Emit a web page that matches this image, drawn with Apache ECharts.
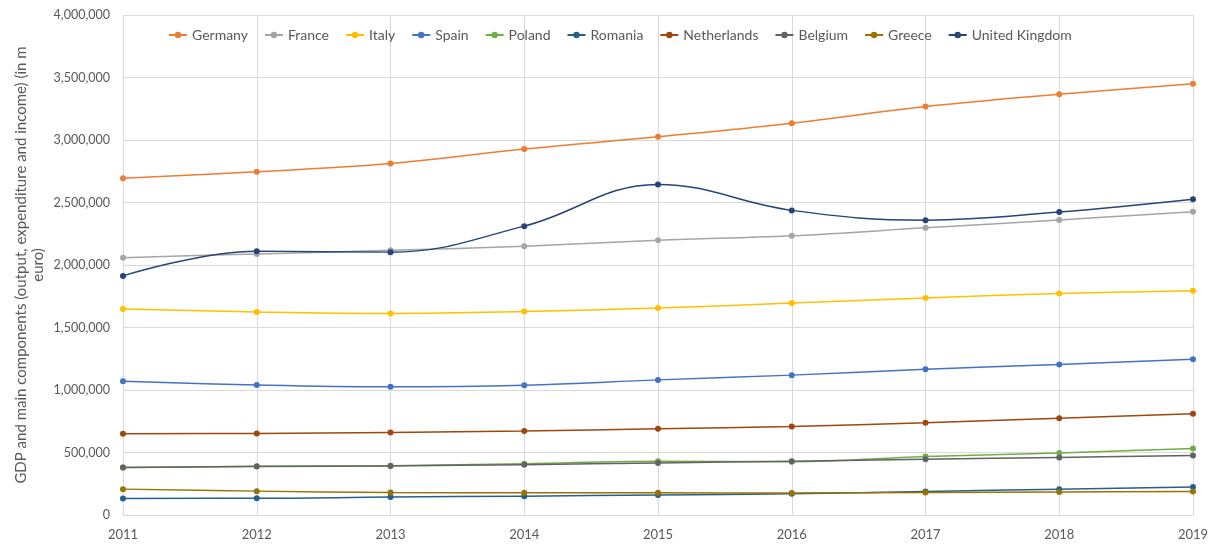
<!DOCTYPE html>
<html>
<head>
<meta charset="utf-8">
<script src="https://cdn.jsdelivr.net/npm/echarts@6/dist/echarts.min.js"></script>
<style>
  html, body { margin: 0; padding: 0; background: #fff; }
  #chart { width: 1215px; height: 551px; }
</style>
</head>
<body>
<div id="chart"></div>
<script>
// years on x axis
const years = ['2011', '2012', '2013', '2014', '2015', '2016', '2017', '2018', '2019'];

// values in million euro
const germany = [2693600, 2745300, 2811400, 2927400, 3026200, 3134700, 3267200, 3365400, 3449100];
const france = [2058400, 2088800, 2117200, 2149800, 2198400, 2234100, 2297200, 2360700, 2425700];
const italy = [1648800, 1624400, 1612800, 1627400, 1655400, 1695600, 1736600, 1771400, 1794900];
const spain = [1070400, 1039800, 1025700, 1038900, 1081000, 1119000, 1166300, 1204200, 1245300];
const poland = [380200, 389400, 395000, 411000, 430100, 426500, 467100, 496500, 532300];
const romania = [133000, 133200, 143800, 150500, 160300, 170000, 187800, 206300, 223300];
const netherlands = [650400, 652300, 660500, 671600, 690000, 708300, 738100, 774000, 810200];
const belgium = [379100, 387500, 392900, 402900, 416700, 430100, 446400, 460100, 476200];
const greece = [207000, 191000, 180000, 178600, 177300, 176500, 180200, 184700, 187500];
const uk = [1913000, 2111000, 2103000, 2311000, 2645000, 2437000, 2359000, 2424000, 2526000];

const seriesList = [
  ['Germany', germany, '#ED7D31'],
  ['France', france, '#A5A5A5'],
  ['Italy', italy, '#FFC000'],
  ['Spain', spain, '#4472C4'],
  ['Poland', poland, '#70AD47'],
  ['Romania', romania, '#255E91'],
  ['Netherlands', netherlands, '#9E480E'],
  ['Belgium', belgium, '#636363'],
  ['Greece', greece, '#997300'],
  ['United Kingdom', uk, '#264478']
];

const font = 'Lato, Open Sans, sans-serif';
const myechart = echarts.init(document.getElementById('chart'));

const series = seriesList.map(s => ({
  name: s[0],
  type: 'line',
  data: s[1],
  smooth: 0.4,
  symbol: 'circle',
  symbolSize: 6,
  lineStyle: { width: 1.5, color: s[2] },
  itemStyle: { color: s[2] }
}));

const option = {
  animation: false,
  textStyle: { fontFamily: font },
  legend: {
    top: 23,
    left: 163,
    itemWidth: 18,
    itemHeight: 8,
    itemGap: 16,
    textStyle: { fontSize: 14, color: '#595959', fontFamily: font },
    data: seriesList.map(s => s[0])
  },
  grid: {
    left: 123,
    right: 22,
    top: 15,
    bottom: 36,
    containLabel: false,
    outerBoundsMode: 'none'
  },
  xAxis: {
    type: 'category',
    data: years,
    boundaryGap: false,
    axisTick: { show: false },
    axisLine: { lineStyle: { color: '#d9d9d9' } },
    axisLabel: { color: '#595959', fontSize: 13, margin: 13, fontFamily: font },
    splitLine: { show: true, lineStyle: { color: '#d9d9d9' } }
  },
  yAxis: {
    type: 'value',
    min: 0,
    max: 4000000,
    interval: 500000,
    name: 'GDP and main components (output, expenditure and income) (in m\neuro)',
    nameLocation: 'middle',
    nameGap: 76,
    nameRotate: 90,
    nameMoveOverlap: false,
    nameTextStyle: { color: '#595959', fontSize: 15, lineHeight: 17, fontFamily: font },
    axisTick: { show: false },
    axisLine: { show: false },
    axisLabel: {
      color: '#595959',
      fontSize: 12.5,
      margin: 13,
      fontFamily: font,
      formatter: v => v.toLocaleString('en-US')
    },
    splitLine: { lineStyle: { color: '#d9d9d9' } }
  },
  series: series
};
myechart.setOption(option);
</script>
</body>
</html>
